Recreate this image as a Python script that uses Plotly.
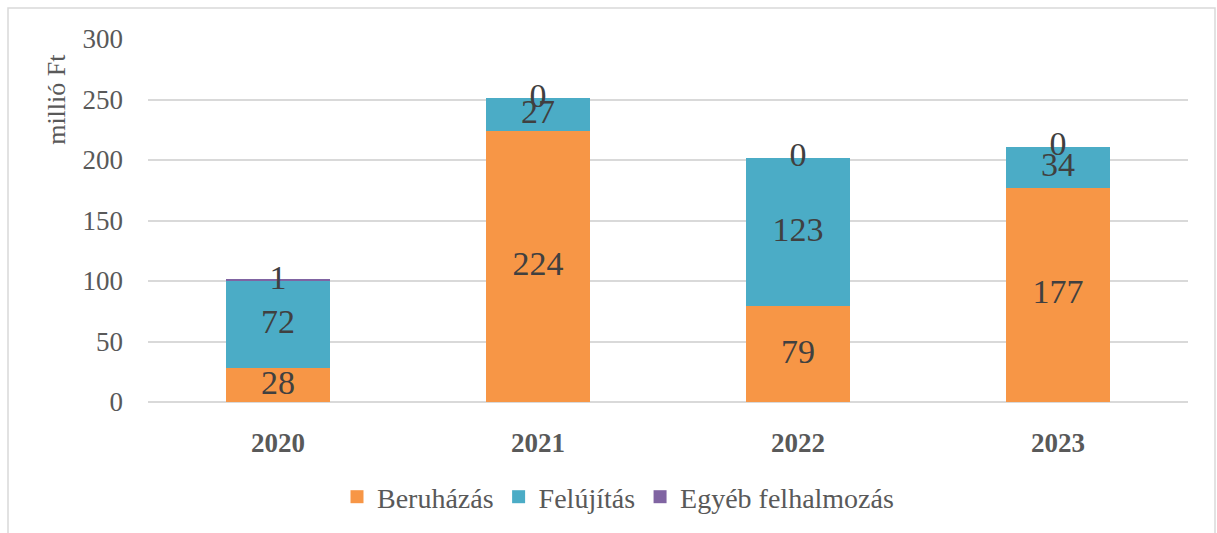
import plotly.graph_objects as go

years = ["2020", "2021", "2022", "2023"]
beruhazas = [28, 224, 79, 177]
felujitas = [72, 27, 123, 34]
egyeb = [1, 0, 0, 0]

series_names = ["Beruházás", "Felújítás", "Egyéb felhalmozás"]
series_values = [beruhazas, felujitas, egyeb]
series_colors = ["#F79646", "#4BACC6", "#8064A2"]

y_ticks = [0, 50, 100, 150, 200, 250, 300]
y_title = "millió Ft"

FONT = "Liberation Serif"
W, H = 1217, 533
L, R, T, B = 148, 29, 39, 130
pw, ph = W - L - R, H - T - B

fig = go.Figure()

for name, vals, col in zip(series_names, series_values, series_colors):
    fig.add_trace(go.Bar(
        x=years, y=vals, name=name, marker=dict(color=col, line=dict(width=0)),
        width=0.4, hoverinfo="skip", showlegend=False))

# data labels at segment midpoints
base = [0] * len(years)
for vals in series_values:
    mids = [b + v / 2 for b, v in zip(base, vals)]
    fig.add_trace(go.Scatter(
        x=years, y=mids, mode="text", text=[str(v) for v in vals],
        textposition="middle center",
        textfont=dict(family=FONT, size=34, color="#404040"),
        showlegend=False, hoverinfo="skip"))
    base = [b + v for b, v in zip(base, vals)]

# legend entries (square swatches)
for name, col in zip(series_names, series_colors):
    fig.add_trace(go.Scatter(
        x=[None], y=[None], mode="markers", name=name,
        marker=dict(symbol="square", size=13, color=col), hoverinfo="skip"))

def px_x(x):
    return (x - L) / pw

def px_y(y):
    return (H - B - y) / ph

fig.add_shape(type="rect", xref="paper", yref="paper",
              x0=px_x(8), x1=px_x(1215), y0=px_y(560), y1=px_y(8),
              line=dict(color="#D9D9D9", width=1.5), layer="below")

fig.add_annotation(text=y_title, xref="paper", yref="paper",
                   x=px_x(57), y=px_y(100), textangle=-90, showarrow=False,
                   xanchor="center", yanchor="middle",
                   font=dict(family=FONT, size=26, color="#595959"))

fig.update_layout(
    width=W, height=H,
    margin=dict(l=L, r=R, t=T, b=B),
    barmode="stack",
    plot_bgcolor="white", paper_bgcolor="white",
    font=dict(family=FONT, color="#595959"),
    showlegend=True,
    legend=dict(orientation="h", x=px_x(618), xanchor="center",
                y=px_y(497), yanchor="middle",
                font=dict(family=FONT, size=28, color="#595959"),
                traceorder="normal", itemwidth=30),
    xaxis=dict(showgrid=False, showline=False, ticks="",
               tickfont=dict(family=FONT, size=27, color="#595959", weight="bold"),
               ticklabelstandoff=22),
    yaxis=dict(range=[0, 300], tickvals=y_ticks, showgrid=True,
               gridcolor="#D9D9D9", gridwidth=1.5, zeroline=True,
               zerolinecolor="#D9D9D9", zerolinewidth=1.5,
               tickfont=dict(family=FONT, size=27, color="#595959"),
               ticklabelstandoff=24),
)

fig.write_html("out.html")
